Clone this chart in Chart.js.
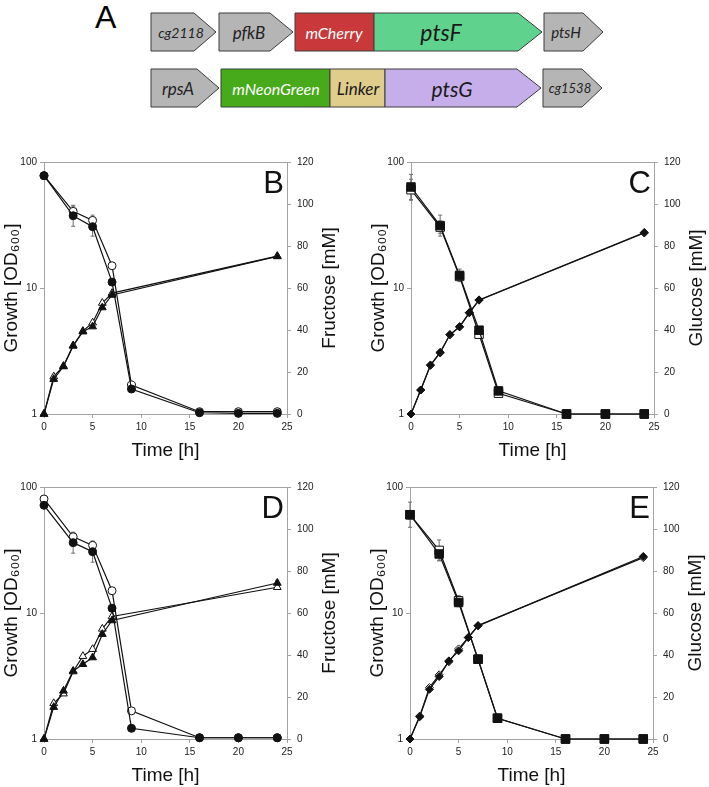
<!DOCTYPE html>
<html>
<head>
<meta charset="utf-8">
<title>ptsF / ptsG fusions – growth and sugar consumption</title>
<script src="https://cdn.jsdelivr.net/npm/chart.js@4.4.1/dist/chart.umd.min.js"></script>
<style>
  html, body { margin: 0; padding: 0; background: #fff; }
  #page { position: relative; width: 709px; height: 787px; overflow: hidden; }
  #genes { position: absolute; left: 0; top: 0; }
  canvas.panel { position: absolute; }
</style>
</head>
<body>
<div id="page">
  <svg id="genes" width="709" height="125"></svg>
  <canvas id="chartB" class="panel" width="342" height="335" style="left:0;top:130px"></canvas>
  <canvas id="chartC" class="panel" width="342" height="335" style="left:367px;top:130px"></canvas>
  <canvas id="chartD" class="panel" width="342" height="335" style="left:0;top:455px"></canvas>
  <canvas id="chartE" class="panel" width="342" height="335" style="left:366px;top:455px"></canvas>
</div>
<script>
// --- data -----------------------------------------------------------------
const hoursSugar = [0, 3, 5, 7, 9, 16, 20, 24];
const hoursGrowth = [0, 1, 2, 3, 4, 5, 6, 7, 24];
const xTicks = [0, 5, 10, 15, 20, 25];
const odTicks = [1, 10, 100];
const mMTicks = [0, 20, 40, 60, 80, 100, 120];

// B: fructose (right axis) and growth (left axis)
const fructoseB_closed = [113.5, 94.4, 89.2, 62.8, 11.9, 0.6, 0.3, 0.3];
const fructoseB_closedErr = [1.5, 5, 4.5, 1, 0.5, 0, 0, 0];
const fructoseB_open = [113.5, 96.5, 92.2, 70.6, 13.8, 1.1, 1.1, 1.1];
const fructoseB_openErr = [1, 2.5, 2.5, 1, 0.5, 0, 0, 0];
const growthB_closed = [1, 1.89, 2.38, 3.47, 4.5, 4.94, 7.0, 8.8, 17.8];
const growthB_closedErr = [0, 0, 0, 0, 0, 0, 0, 0, 0.6];
const growthB_open = [1, 1.98, 2.4, 3.5, 4.55, 5.3, 7.6, 9.1, 17.9];

// C: glucose and growth
const glucoseC_closed = [108.1, 89.7, 66.0, 39.9, 11.0, 0, 0, 0];
const glucoseC_closedErr = [6, 5, 3, 1.5, 0.5, 0, 0, 0];
const glucoseC_open = [106.8, 89.0, 65.5, 38.0, 9.9, 0, 0, 0];
const glucoseC_openErr = [5, 3, 2, 1.5, 0.5, 0, 0, 0];
const growthC_closed = [1, 1.55, 2.45, 3.09, 4.27, 4.94, 6.38, 8.05, 27.6];
const growthC_closedErr = [0, 0, 0, 0, 0, 0, 0, 0, 0.7];
const growthC_open = [1, 1.55, 2.43, 3.05, 4.25, 4.9, 6.35, 8.0, 27.3];

// D: fructose and growth
const fructoseD_closed = [111.3, 93.5, 89.2, 62.3, 5.1, 0.6, 0.6, 0.6];
const fructoseD_closedErr = [1, 5, 5, 1, 0.5, 0, 0, 0];
const fructoseD_open = [114.3, 96.3, 92.2, 70.6, 13.4, 0.6, 0.6, 0.6];
const fructoseD_openErr = [1, 2, 2, 1, 0.5, 0, 0, 0];
const growthD_closed = [1, 1.79, 2.41, 3.47, 3.92, 4.43, 6.79, 8.72, 17.3];
const growthD_closedErr = [0, 0, 0, 0, 0, 0, 0, 0, 0.9];
const growthD_open = [1, 1.92, 2.29, 3.43, 4.54, 5.16, 7.48, 9.38, 16.0];

// E: glucose and growth
const glucoseE_closed = [106.8, 88.1, 65.0, 38.0, 9.9, 0, 0, 0];
const glucoseE_closedErr = [2, 3, 2, 1, 0.5, 0, 0, 0];
const glucoseE_open = [106.8, 89.8, 65.8, 38.0, 9.9, 0, 0, 0];
const glucoseE_openErr = [6, 5, 2.5, 1, 0.5, 0, 0, 0];
const growthE_closed = [1, 1.50, 2.48, 3.13, 4.17, 5.01, 6.38, 7.91, 28.1];
const growthE_closedErr = [0, 0, 0, 0, 0, 0, 0, 0, 0.9];
const growthE_open = [1, 1.52, 2.56, 3.23, 4.1, 5.19, 6.4, 7.95, 27.5];

// --- panel A: gene map (plain svg, not a chart) ----------------------------
const geneRows = [
  { top: 13, genes: [
    { name: "cg2118", x0: 151, x1: 216, head: 22, fill: "#b5b5b5", ink: "#222", size: 14, tx: 181 },
    { name: "pfkB", x0: 219, x1: 293, head: 23, fill: "#b5b5b5", ink: "#222", size: 17, tx: 249 },
    { name: "mCherry", x0: 295, x1: 374, head: 0, fill: "#c9383b", ink: "#fff", size: 16, tx: 334 },
    { name: "ptsF", x0: 374, x1: 542, head: 24, fill: "#5fd28e", ink: "#1a1a1a", size: 23, tx: 441 },
    { name: "ptsH", x0: 544, x1: 603, head: 20, fill: "#b5b5b5", ink: "#222", size: 15, tx: 566 }
  ]},
  { top: 69, genes: [
    { name: "rpsA", x0: 151, x1: 219, head: 22, fill: "#b5b5b5", ink: "#222", size: 17, tx: 178 },
    { name: "mNeonGreen", x0: 221, x1: 330, head: 0, fill: "#47aa1b", ink: "#fff", size: 16, tx: 276 },
    { name: "Linker", x0: 330, x1: 385, head: 0, fill: "#e0cd8c", ink: "#1a1a1a", size: 17, tx: 358 },
    { name: "ptsG", x0: 385, x1: 541, head: 24, fill: "#c6aeea", ink: "#1a1a1a", size: 21, tx: 452 },
    { name: "cg1538", x0: 543, x1: 602, head: 20, fill: "#b5b5b5", ink: "#222", size: 13, tx: 570 }
  ]}
];
const svgNS = "http://www.w3.org/2000/svg";
const geneSvg = document.getElementById("genes");
const letterA = document.createElementNS(svgNS, "text");
letterA.setAttribute("x", 95);
letterA.setAttribute("y", 28);
letterA.setAttribute("font-family", "Liberation Sans, Arial, sans-serif");
letterA.setAttribute("font-size", 32);
letterA.textContent = "A";
geneSvg.appendChild(letterA);
geneRows.forEach(row => {
  const top = row.top, bot = row.top + 38, mid = row.top + 19;
  row.genes.forEach(g => {
    const s = g.x1 - g.head;
    const poly = document.createElementNS(svgNS, "polygon");
    poly.setAttribute("points", `${g.x0},${top} ${s},${top} ${g.x1},${mid} ${s},${bot} ${g.x0},${bot}`);
    poly.setAttribute("fill", g.fill);
    poly.setAttribute("stroke", "#3c3c3c");
    poly.setAttribute("stroke-width", 1);
    geneSvg.appendChild(poly);
    const t = document.createElementNS(svgNS, "text");
    t.setAttribute("x", g.tx);
    t.setAttribute("y", mid);
    t.setAttribute("text-anchor", "middle");
    t.setAttribute("dominant-baseline", "central");
    t.setAttribute("font-family", "Lato, Open Sans, sans-serif");
    t.setAttribute("font-style", "italic");
    t.setAttribute("font-size", g.size);
    t.setAttribute("fill", g.ink);
    t.textContent = g.name;
    geneSvg.appendChild(t);
  });
});

// --- charts ----------------------------------------------------------------
const axisGrey = "#a3a3a3";
const tickFont = { family: "Liberation Sans, Arial, sans-serif", size: 10 };
const titleFont = { family: "Liberation Sans, Arial, sans-serif", size: 19 };

const errorBars = {
  id: "errorBars",
  beforeDatasetsDraw(chart) {
    const ctx = chart.ctx;
    const xs = chart.scales.x;
    ctx.save();
    ctx.strokeStyle = "#6e6e6e";
    ctx.lineWidth = 1;
    chart.data.datasets.forEach(ds => {
      if (!ds.err) return;
      const ys = chart.scales[ds.yAxisID];
      ds.data.forEach((p, j) => {
        const e = ds.err[j];
        if (!e) return;
        const x = xs.getPixelForValue(p.x);
        const lo = ys.getPixelForValue(Math.max(p.y - e, ys.min));
        const hi = ys.getPixelForValue(p.y + e);
        ctx.beginPath();
        ctx.moveTo(x, lo); ctx.lineTo(x, hi);
        ctx.moveTo(x - 2, lo); ctx.lineTo(x + 2, lo);
        ctx.moveTo(x - 2, hi); ctx.lineTo(x + 2, hi);
        ctx.stroke();
      });
    });
    ctx.restore();
  }
};

const panelText = {
  id: "panelText",
  beforeDatasetsDraw(chart, args, opts) {
    const { ctx, chartArea: a } = chart;
    ctx.save();
    ctx.strokeStyle = axisGrey;
    ctx.lineWidth = 1;
    ctx.strokeRect(a.left + 0.5, a.top + 0.5, a.right - a.left, a.bottom - a.top);
    ctx.fillStyle = "#111";
    ctx.font = "31px 'Liberation Sans', Arial, sans-serif";
    ctx.textAlign = "right";
    ctx.textBaseline = "alphabetic";
    ctx.fillText(opts.letter, a.right - 3, a.top + 31);
    ctx.translate(a.right + 43, (a.top + a.bottom) / 2);
    ctx.rotate(-Math.PI / 2);
    ctx.font = "19px 'Liberation Sans', Arial, sans-serif";
    ctx.textAlign = "center";
    ctx.textBaseline = "middle";
    ctx.fillText(opts.rightTitle, 0, 0);
    ctx.restore();
  }
};

function pts(hours, vals) {
  return hours.map((h, i) => ({ x: h, y: vals[i] }));
}

function series(hours, vals, err, axis, shape, filled, radius) {
  return {
    data: pts(hours, vals),
    err: err,
    yAxisID: axis,
    borderColor: "#111",
    borderWidth: 1.2,
    pointStyle: shape,
    pointRadius: radius,
    pointBorderWidth: 1,
    pointBorderColor: "#111",
    pointBackgroundColor: filled ? "#111" : "#fff",
    tension: 0,
    clip: false
  };
}

function makePanel(id, letter, sugarTitle, sugarShape, sugarR, growthShape, growthR, s) {
  new Chart(document.getElementById(id), {
    type: "line",
    data: {
      datasets: [
        series(hoursSugar, s.sugarClosed, s.sugarClosedErr, "y1", sugarShape, true, sugarR),
        series(hoursSugar, s.sugarOpen, s.sugarOpenErr, "y1", sugarShape, false, sugarR),
        series(hoursGrowth, s.growthClosed, s.growthClosedErr, "y", growthShape, true, growthR),
        series(hoursGrowth, s.growthOpen, null, "y", growthShape, false, growthR)
      ]
    },
    options: {
      responsive: false,
      animation: false,
      devicePixelRatio: 1,
      layout: { padding: { top: 32, left: 0, right: 0, bottom: 0 } },
      plugins: {
        legend: { display: false },
        tooltip: { enabled: false },
        panelText: { letter: letter, rightTitle: sugarTitle }
      },
      scales: {
        x: {
          type: "linear", min: 0, max: 25,
          afterBuildTicks: sc => { sc.ticks = xTicks.map(v => ({ value: v })); },
          afterFit: sc => { sc.height = 51; },
          grid: { drawOnChartArea: false, tickLength: 4, color: axisGrey },
          border: { color: axisGrey },
          ticks: { font: tickFont, color: "#222", padding: 3, maxRotation: 0 },
          title: { display: true, text: "Time [h]", font: titleFont, color: "#111", padding: { top: 0, bottom: 3 } }
        },
        y: {
          type: "logarithmic", position: "left", min: 1, max: 100,
          afterBuildTicks: sc => { sc.ticks = odTicks.map(v => ({ value: v })); },
          afterFit: sc => { sc.width = 44; },
          grid: { drawOnChartArea: false, tickLength: 4, color: axisGrey },
          border: { color: axisGrey },
          ticks: { font: tickFont, color: "#222", padding: 3, callback: v => String(v) },
          title: { display: true, text: "Growth [OD₆₀₀]", font: titleFont, color: "#111", padding: { top: 0, bottom: 0 } }
        },
        y1: {
          type: "linear", position: "right", min: 0, max: 120,
          afterBuildTicks: sc => { sc.ticks = mMTicks.map(v => ({ value: v })); },
          afterFit: sc => { sc.width = 55; },
          grid: { drawOnChartArea: false, tickLength: 4, color: axisGrey },
          border: { color: axisGrey },
          ticks: { font: tickFont, color: "#222", padding: 6 }
        }
      }
    },
    plugins: [panelText, errorBars]
  });
}

makePanel("chartB", "B", "Fructose [mM]", "circle", 4, "triangle", 4.5, {
  sugarClosed: fructoseB_closed, sugarClosedErr: fructoseB_closedErr,
  sugarOpen: fructoseB_open, sugarOpenErr: fructoseB_openErr,
  growthClosed: growthB_closed, growthClosedErr: growthB_closedErr, growthOpen: growthB_open
});
makePanel("chartC", "C", "Glucose [mM]", "rect", 6, "rectRot", 4, {
  sugarClosed: glucoseC_closed, sugarClosedErr: glucoseC_closedErr,
  sugarOpen: glucoseC_open, sugarOpenErr: glucoseC_openErr,
  growthClosed: growthC_closed, growthClosedErr: growthC_closedErr, growthOpen: growthC_open
});
makePanel("chartD", "D", "Fructose [mM]", "circle", 4, "triangle", 4.5, {
  sugarClosed: fructoseD_closed, sugarClosedErr: fructoseD_closedErr,
  sugarOpen: fructoseD_open, sugarOpenErr: fructoseD_openErr,
  growthClosed: growthD_closed, growthClosedErr: growthD_closedErr, growthOpen: growthD_open
});
makePanel("chartE", "E", "Glucose [mM]", "rect", 6, "rectRot", 4, {
  sugarClosed: glucoseE_closed, sugarClosedErr: glucoseE_closedErr,
  sugarOpen: glucoseE_open, sugarOpenErr: glucoseE_openErr,
  growthClosed: growthE_closed, growthClosedErr: growthE_closedErr, growthOpen: growthE_open
});
</script>
</body>
</html>
